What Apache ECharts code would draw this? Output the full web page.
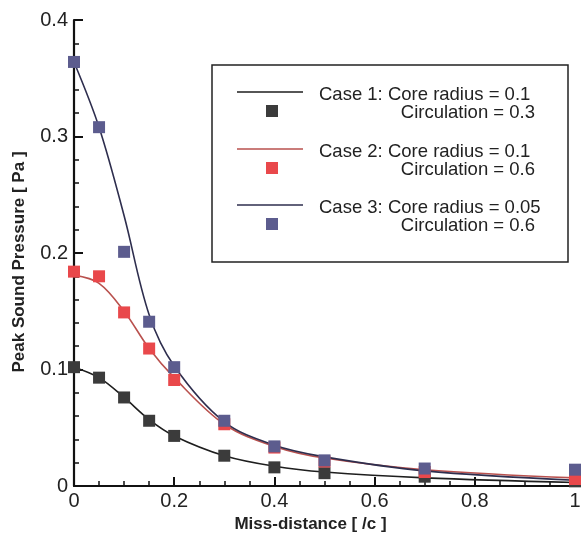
<!DOCTYPE html>
<html>
<head>
<meta charset="utf-8">
<script src="https://cdn.jsdelivr.net/npm/echarts@6/dist/echarts.min.js"></script>
<style>
  html, body { margin: 0; padding: 0; background: #fff; }
  #chartBox { width: 586px; height: 538px; }
</style>
</head>
<body>
<div id="chartBox"></div>
<script>
// miss-distance values where the squares sit
const missDistance = [0, 0.05, 0.1, 0.15, 0.2, 0.3, 0.4, 0.5, 0.7, 1];

// squares
const case1Points = [0.102, 0.093, 0.076, 0.056, 0.043, 0.026, 0.016, 0.011, 0.008, 0.004];
const case2Points = [0.184, 0.180, 0.149, 0.118, 0.091, 0.053, 0.033, 0.021, 0.012, 0.006];
const case3Points = [0.364, 0.308, 0.201, 0.141, 0.102, 0.056, 0.034, 0.022, 0.015, 0.014];

// fitted curves at the same x positions
const case1Curve = [0.102, 0.093, 0.076, 0.057, 0.043, 0.026, 0.017, 0.012, 0.007, 0.003];
const case2Curve = [0.181, 0.174, 0.150, 0.118, 0.093, 0.053, 0.034, 0.024, 0.014, 0.007];
const case3Curve = [0.364, 0.308, 0.232, 0.147, 0.103, 0.055, 0.035, 0.025, 0.013, 0.005];

const xTicks = ["0", "0.2", "0.4", "0.6", "0.8", "1"];
const yTicks = ["0", "0.1", "0.2", "0.3", "0.4"];

const legendLines = [
  ["Case 1: Core radius = 0.1", "Circulation = 0.3"],
  ["Case 2: Core radius = 0.1", "Circulation = 0.6"],
  ["Case 3: Core radius = 0.05", "Circulation = 0.6"]
];

const lineColors = ["#1e1e1e", "#b9514e", "#2e2e4e"];
const squareColors = ["#3b3b3b", "#e9484b", "#5c5c8e"];

function pairs(ys) {
  return missDistance.map((x, i) => [x, ys[i]]);
}

const myChart = echarts.init(document.getElementById("chartBox"));

const axisStyle = {
  axisLine: { show: true, lineStyle: { color: "#111", width: 2.2 } },
  axisTick: { show: true, inside: true, length: 9, lineStyle: { color: "#111", width: 2 } },
  minorTick: { show: true, length: 5, lineStyle: { color: "#111", width: 1.5 } },
  splitLine: { show: false },
  axisLabel: {
    color: "#222",
    fontFamily: "Liberation Sans",
    fontSize: 20
  },
  nameTextStyle: {
    color: "#222",
    fontFamily: "Liberation Sans",
    fontWeight: "bold",
    fontSize: 17
  }
};

const curves = [case1Curve, case2Curve, case3Curve];
const points = [case1Points, case2Points, case3Points];
const series = [];
curves.forEach((c, i) => {
  series.push({
    type: "line",
    data: pairs(c),
    smooth: 0.35,
    showSymbol: false,
    lineStyle: { color: lineColors[i], width: 1.6 },
    z: 2
  });
});
points.forEach((p, i) => {
  series.push({
    type: "scatter",
    data: pairs(p),
    symbol: "rect",
    symbolSize: 12,
    itemStyle: { color: squareColors[i], opacity: 1 },
    z: 3
  });
});

// legend drawn as a box, like the original
const legendGraphics = [
  {
    type: "rect",
    shape: { x: 212, y: 65, width: 356, height: 197 },
    style: { fill: "#fff", stroke: "#222", lineWidth: 1.5 },
    z: 10
  }
];
const rowTop = [95, 152, 208];
legendLines.forEach((txt, i) => {
  const y = rowTop[i];
  legendGraphics.push(
    {
      type: "line",
      shape: { x1: 237, y1: y - 3, x2: 303, y2: y - 3 },
      style: { stroke: lineColors[i], lineWidth: 1.6 },
      z: 11
    },
    {
      type: "rect",
      shape: { x: 266, y: y + 10, width: 12, height: 12 },
      style: { fill: squareColors[i] },
      z: 11
    },
    {
      type: "text",
      x: 319,
      y: y,
      style: {
        text: txt[0],
        fill: "#222",
        font: "18.5px 'Liberation Sans'",
        textAlign: "left",
        textVerticalAlign: "middle"
      },
      z: 11
    },
    {
      type: "text",
      x: 535,
      y: y + 18,
      style: {
        text: txt[1],
        fill: "#222",
        font: "18.5px 'Liberation Sans'",
        textAlign: "right",
        textVerticalAlign: "middle"
      },
      z: 11
    }
  );
});

const option = {
  animation: false,
  backgroundColor: "#fff",
  grid: {
    left: 74,
    right: 11,
    top: 20,
    bottom: 52,
    containLabel: false,
    outerBoundsMode: "none"
  },
  xAxis: Object.assign({}, axisStyle, {
    type: "value",
    min: 0,
    max: 1,
    interval: 0.2,
    minorTick: Object.assign({}, axisStyle.minorTick, { splitNumber: 4 }),
    axisLabel: Object.assign({}, axisStyle.axisLabel, {
      margin: 5,
      formatter: (v) => xTicks[Math.round(v / 0.2)]
    }),
    name: "Miss-distance [ /c ]",
    nameLocation: "middle",
    nameGap: 30,
    nameTextStyle: Object.assign({}, axisStyle.nameTextStyle, { padding: [0, 28, 0, 0] })
  }),
  yAxis: Object.assign({}, axisStyle, {
    type: "value",
    min: 0,
    max: 0.4,
    interval: 0.1,
    minorTick: Object.assign({}, axisStyle.minorTick, { splitNumber: 5 }),
    axisLabel: Object.assign({}, axisStyle.axisLabel, {
      margin: 6,
      formatter: (v) => yTicks[Math.round(v / 0.1)]
    }),
    name: "Peak Sound Pressure [ Pa ]",
    nameLocation: "middle",
    nameGap: 46,
    nameTextStyle: Object.assign({}, axisStyle.nameTextStyle, { padding: [0, 18, 0, 0] })
  }),
  graphic: legendGraphics,
  series: series
};

option && myChart.setOption(option);
</script>
</body>
</html>
